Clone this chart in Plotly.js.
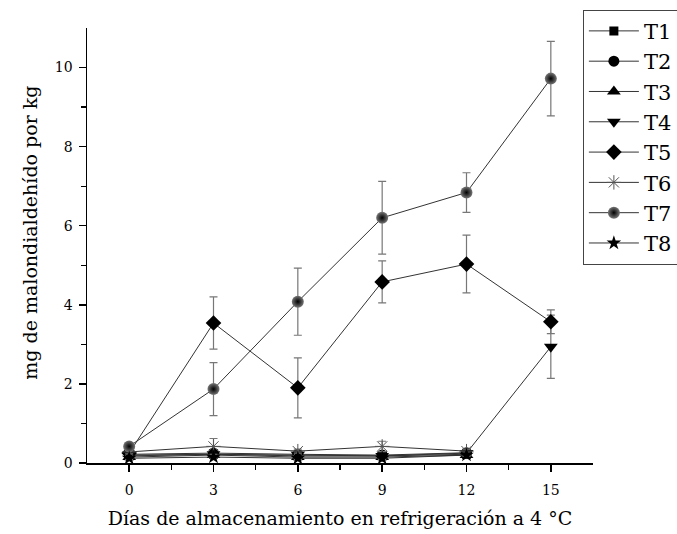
<!DOCTYPE html>
<html>
<head>
<meta charset="utf-8">
<script src="https://cdn.plot.ly/plotly-3.0.1.min.js"></script>
<style>html,body{margin:0;padding:0;background:#fff;}#chart{width:677px;height:534px;}</style>
</head>
<body>
<div id="chart"></div>
<script>
const days = [0, 3, 6, 9, 12, 15];
const daysShort = [0, 3, 6, 9, 12];
const seriesNames = ["T1", "T2", "T3", "T4", "T5", "T6", "T7", "T8"];

const T1 = [0.18, 0.22, 0.18, 0.18, 0.22];
const T2 = [0.22, 0.25, 0.22, 0.20, 0.26];
const T3 = [0.15, 0.20, 0.15, 0.15, 0.20];
const T4 = [0.20, 0.22, 0.20, 0.18, 0.25, 2.94];
const T5 = [0.25, 3.54, 1.90, 4.58, 5.03, 3.57];
const T6 = [0.28, 0.42, 0.30, 0.42, 0.30];
const T7 = [0.42, 1.87, 4.08, 6.20, 6.84, 9.72];
const T8 = [0.12, 0.15, 0.12, 0.12, 0.20];

const T1err = [0.03, 0.03, 0.03, 0.03, 0.03];
const T2err = [0.03, 0.03, 0.03, 0.03, 0.05];
const T3err = [0.03, 0.03, 0.03, 0.03, 0.03];
const T4err = [0.03, 0.03, 0.03, 0.03, 0.05, 0.80];
const T5err = [0.05, 0.66, 0.76, 0.53, 0.73, 0.30];
const T6err = [0.05, 0.20, 0.05, 0.13, 0.05];
const T7err = [0.05, 0.67, 0.85, 0.92, 0.50, 0.94];
const T8err = [0.03, 0.03, 0.03, 0.03, 0.03];

const xTickVals = [0, 3, 6, 9, 12, 15];
const xTickText = ["0", "3", "6", "9", "12", "15"];
const yTickVals = [0, 2, 4, 6, 8, 10];
const yTickText = ["0", "2", "4", "6", "8", "10"];

const font = "DejaVu Serif";

function tr(name, x, y, err, symbol, size, extra) {
  const t = {
    type: "scatter", mode: "lines+markers", name: name, x: x, y: y,
    line: {color: "#333", width: 1},
    marker: Object.assign({symbol: symbol, size: size, color: "#000", line: {width: 0, color: "#000"}}, extra || {}),
    error_y: {type: "data", array: err, visible: true, color: "#777", thickness: 1.2, width: 4},
    cliponaxis: false
  };
  return t;
}

const data = [
  tr(seriesNames[0], daysShort, T1, T1err, "square", 9),
  tr(seriesNames[1], daysShort, T2, T2err, "circle", 11),
  tr(seriesNames[2], daysShort, T3, T3err, "triangle-up", 12),
  tr(seriesNames[3], days, T4, T4err, "triangle-down", 12),
  tr(seriesNames[4], days, T5, T5err, "diamond", 12),
  tr(seriesNames[5], daysShort, T6, T6err, "asterisk-open", 12, {color: "#555", line: {width: 1, color: "#555"}}),
  tr(seriesNames[6], days, T7, T7err, "circle", 12, {color: "#777", gradient: {type: "radial", color: "#000"}}),
  tr(seriesNames[7], daysShort, T8, T8err, "star", 11)
];

const layout = {
  width: 677, height: 534,
  margin: {l: 87, r: 84, t: 28, b: 71, autoexpand: false},
  paper_bgcolor: "#fff", plot_bgcolor: "#fff",
  font: {family: font, color: "#000", size: 14},
  showlegend: true,
  legend: {
    x: 0.98, y: 1.042, xanchor: "left", yanchor: "top",
    bordercolor: "#444", borderwidth: 1, bgcolor: "#fff",
    font: {family: font, size: 21, color: "#000"},
    tracegroupgap: 0, itemwidth: 50
  },
  xaxis: {
    range: [-1.5, 16.5], showgrid: false, zeroline: false,
    showline: true, linecolor: "#000", linewidth: 1.5,
    ticks: "outside", ticklen: 7, tickwidth: 1.5, tickcolor: "#000",
    tickvals: xTickVals, ticktext: xTickText,
    tickfont: {family: font, size: 14, color: "#000"},
    ticklabelstandoff: 7,
    minor: {tickvals: [1.5, 4.5, 7.5, 10.5, 13.5], ticks: "outside", ticklen: 5, tickwidth: 1.2, tickcolor: "#000"},
    title: {text: "Días de almacenamiento en refrigeración a 4 °C", font: {family: font, size: 19, color: "#000"}, standoff: 14}
  },
  yaxis: {
    range: [0, 11], showgrid: false, zeroline: false,
    showline: true, linecolor: "#000", linewidth: 1.5,
    ticks: "outside", ticklen: 7, tickwidth: 1.5, tickcolor: "#000",
    tickvals: yTickVals, ticktext: yTickText,
    tickfont: {family: font, size: 14, color: "#000"},
    ticklabelstandoff: 3,
    minor: {tickvals: [1, 3, 5, 7, 9], ticks: "outside", ticklen: 5, tickwidth: 1.2, tickcolor: "#000"}
  },
  annotations: [{
    text: "mg de malondialdehído por kg", textangle: -90, showarrow: false,
    xref: "paper", yref: "paper", x: -0.113, y: 0.529, xanchor: "center", yanchor: "middle",
    font: {family: font, size: 19, color: "#000"}
  }]
};

Plotly.newPlot("chart", data, layout, {displayModeBar: false, staticPlot: true});
</script>
</body>
</html>
